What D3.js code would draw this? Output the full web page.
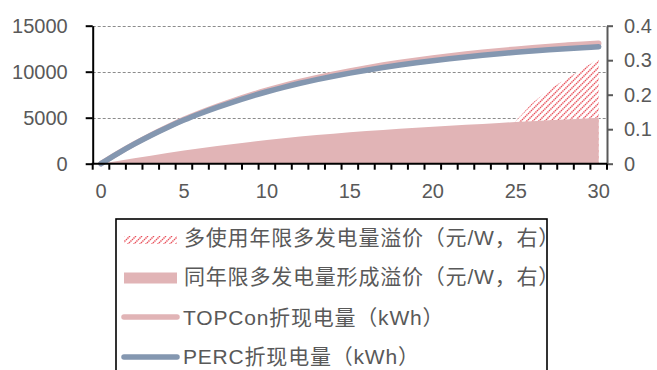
<!DOCTYPE html>
<html><head><meta charset="utf-8">
<script src="https://cdn.jsdelivr.net/npm/d3@7"></script>
<style>
html,body{margin:0;padding:0;background:#fff;}
svg{display:block;}
</style></head>
<body>
<svg id="c" width="657" height="370"></svg>
<script>
// ---- data ----
const years = [0,1,2,3,4,5,6,7,8,9,10,11,12,13,14,15,16,17,18,19,20,21,22,23,24,25,26,27,28,29,30];
const xTickLabels = [0,5,10,15,20,25,30];
const leftTicks = [0,5000,10000,15000];
const rightTicks = [0,0.1,0.2,0.3,0.4];
const perc = [0,1100,2120,3060,3930,4740,5460,6120,6730,7300,7820,8300,8740,9140,9510,9850,10160,10450,10720,10970,11200,11410,11600,11780,11950,12110,12250,12380,12500,12610,12720];
const topcon = [0,1115,2150,3110,3995,4820,5560,6240,6865,7450,7985,8480,8935,9350,9735,10090,10415,10720,11000,11260,11500,11720,11920,12110,12290,12455,12605,12745,12875,12995,13090];
const premiumSameLife = [0,0.008,0.016,0.023,0.031,0.038,0.045,0.051,0.057,0.063,0.069,0.074,0.079,0.083,0.087,0.091,0.095,0.098,0.101,0.104,0.107,0.110,0.113,0.115,0.118,0.121,0.123,0.126,0.128,0.130,0.133];
const premiumLongLife = [null,null,null,null,null,null,null,null,null,null,null,null,null,null,null,null,null,null,null,null,null,null,null,null,null,0.124,0.176,0.214,0.245,0.274,0.305];
const legendLabels = ["多使用年限多发电量溢价（元/W，右）","同年限多发电量形成溢价（元/W，右）","TOPCon折现电量（kWh）","PERC折现电量（kWh）"];

// ---- chart ----
const svg = d3.select("#c");
const pLeft = 92.7, pRight = 607, pTop = 25.7, pBottom = 163.7;
const x = d3.scaleBand().domain(years).range([pLeft, pRight]).paddingInner(0).paddingOuter(0);
const cx = d => x(d) + x.bandwidth()/2;
const y = d3.scaleLinear().domain([0,15000]).range([pBottom, pTop]);
const y2 = d3.scaleLinear().domain([0,0.4]).range([pBottom, pTop]);
const txt = "#595959";
const pink = "#e1b4b6", blue = "#8497b0";

const defs = svg.append("defs");
const P = 6;
const pat = defs.append("pattern").attr("id","hatch").attr("patternUnits","userSpaceOnUse")
  .attr("width",P).attr("height",P);
pat.append("rect").attr("width",P).attr("height",P).attr("fill","#ffffff");
pat.append("path").attr("d",`M0,${P} L${P},0 M-1,1 L1,-1 M${P-1},${P+1} L${P+1},${P-1}`)
  .attr("stroke","#e9505a").attr("stroke-width",1.5).attr("stroke-dasharray","1.4 0.7").attr("fill","none");

// gridlines
svg.append("g").selectAll("line").data(leftTicks.filter(d=>d>0)).join("line")
  .attr("x1",pLeft).attr("x2",pRight).attr("y1",d=>Math.round(y(d))+0.5).attr("y2",d=>Math.round(y(d))+0.5)
  .attr("stroke","#8c8c8c").attr("stroke-width",1).attr("stroke-dasharray","3 2");

// hatched area
const hatchArea = d3.area().defined(d=>d[1]!=null).x(d=>cx(d[0])).y0(y2(0)).y1(d=>y2(d[1]));
svg.append("path").datum(years.map((yr,i)=>[yr,premiumLongLife[i]])).attr("d",hatchArea).attr("fill","url(#hatch)");

// pink area
const areaGen = d3.area().x(d=>cx(d[0])).y0(y2(0)).y1(d=>y2(d[1]));
svg.append("path").datum(years.map((yr,i)=>[yr,premiumSameLife[i]])).attr("d",areaGen).attr("fill",pink);

// lines
const lineGen = d3.line().x(d=>cx(d[0])).y(d=>y(d[1])).curve(d3.curveMonotoneX);
svg.append("path").datum(years.map((yr,i)=>[yr,topcon[i]])).attr("d",lineGen)
  .attr("fill","none").attr("stroke",pink).attr("stroke-width",5.5).attr("stroke-linecap","round");
svg.append("path").datum(years.map((yr,i)=>[yr,perc[i]])).attr("d",lineGen)
  .attr("fill","none").attr("stroke",blue).attr("stroke-width",5.5).attr("stroke-linecap","round");

// left axis
const gl = svg.append("g").attr("transform",`translate(${pLeft},0)`)
  .call(d3.axisLeft(y).tickValues(leftTicks).tickSize(7).tickSizeOuter(0).tickPadding(18).tickFormat(d3.format("d")));
gl.select(".domain").attr("stroke","#000").attr("stroke-width",2);
gl.selectAll(".tick line").attr("stroke","#000").attr("stroke-width",2);
gl.selectAll("text").attr("fill",txt).style("font-family","Liberation Sans, Arial, sans-serif").style("font-size","20px");

// right axis
const gr = svg.append("g").attr("transform",`translate(${pRight},0)`)
  .call(d3.axisRight(y2).tickValues(rightTicks).tickSize(6).tickSizeOuter(0).tickPadding(11).tickFormat(d=>d===0?"0":d3.format(".1f")(d)));
gr.select(".domain").attr("stroke","#595959").attr("stroke-width",2);
gr.selectAll(".tick line").attr("stroke","#595959").attr("stroke-width",2);
gr.selectAll("text").attr("fill",txt).style("font-family","Liberation Sans, Arial, sans-serif").style("font-size","20px");

// bottom axis: ticks at band boundaries
const gb = svg.append("g");
const bounds = years.map(d=>x(d)).concat([pRight]);
gb.selectAll("line.t").data(bounds).join("line").attr("class","t")
  .attr("x1",d=>d).attr("x2",d=>d).attr("y1",pBottom).attr("y2",pBottom+6)
  .attr("stroke","#000").attr("stroke-width",2);
gb.append("line").attr("x1",pLeft-1).attr("x2",pRight).attr("y1",pBottom).attr("y2",pBottom)
  .attr("stroke","#000").attr("stroke-width",2);
gb.selectAll("text").data(xTickLabels).join("text")
  .attr("x",d=>cx(d)).attr("y",197.5).attr("text-anchor","middle")
  .attr("fill",txt).style("font-family","Liberation Sans, Arial, sans-serif").style("font-size","20px")
  .text(d=>d);

// legend
const lg = svg.append("g");
lg.append("rect").attr("x",116).attr("y",219).attr("width",431).attr("height",170)
  .attr("fill","#fff").attr("stroke","#000").attr("stroke-width",1.6);
const rowsY = [245,284,325,364];
lg.append("rect").attr("x",124).attr("y",236).attr("width",53).attr("height",8).attr("fill","url(#hatch)");
lg.append("rect").attr("x",124).attr("y",272.5).attr("width",53).attr("height",11).attr("fill",pink);
lg.append("line").attr("x1",124).attr("x2",177).attr("y1",317).attr("y2",317)
  .attr("stroke",pink).attr("stroke-width",5.5).attr("stroke-linecap","round");
lg.append("line").attr("x1",124).attr("x2",177).attr("y1",357).attr("y2",357)
  .attr("stroke",blue).attr("stroke-width",5.5).attr("stroke-linecap","round");
lg.selectAll("text.lt").data(legendLabels).join("text").attr("class","lt")
  .attr("x",(d,i)=>i<2?184:183).attr("y",(d,i)=>rowsY[i])
  .attr("fill",txt).style("font-family","Liberation Sans, Arial, 'Noto Sans CJK SC', sans-serif").style("font-size","21px")
  .style("letter-spacing","0.8px")
  .text(d=>d);
</script>
</body></html>
